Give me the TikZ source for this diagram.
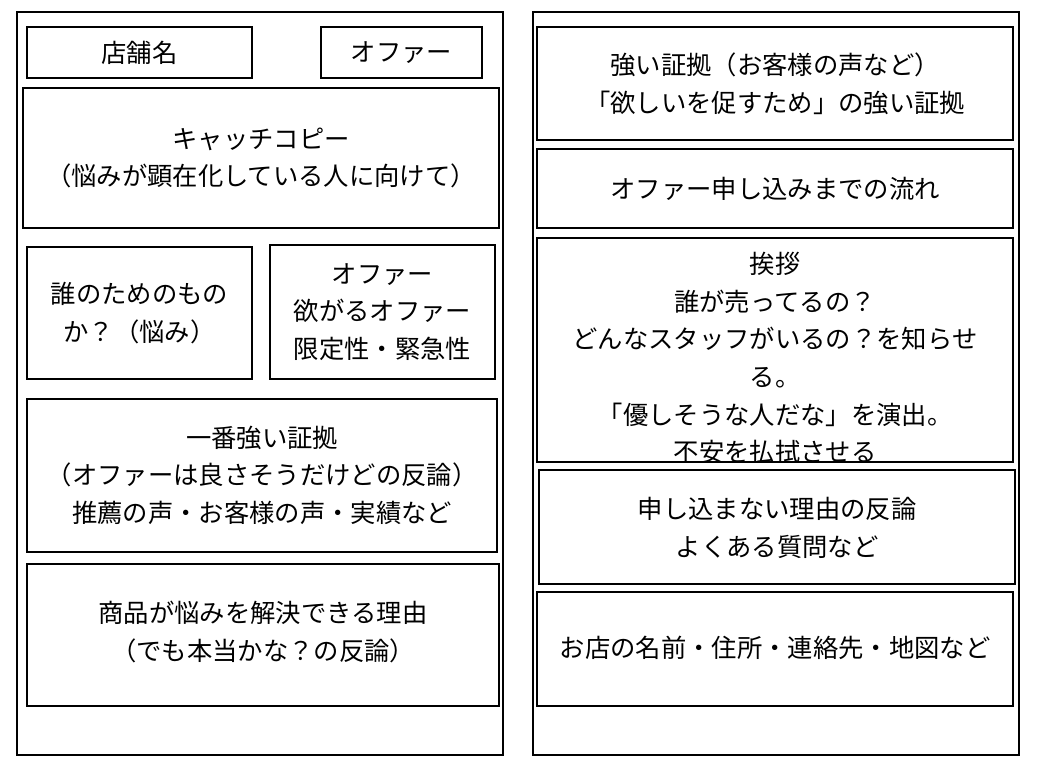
\documentclass[tikz,border=0pt]{standalone}
\usepackage{fontspec}
\setmainfont{Noto Sans CJK JP}
\begin{document}
\begin{tikzpicture}[x=0.75pt,y=-0.75pt,
  box/.style={draw=black,line width=0.8pt},
  txt/.style={font=\fontsize{19}{28.2}\selectfont,align=center,inner sep=0pt}]
\useasboundingbox (0,0) rectangle (1044,782);
\draw[box] (17,12) rectangle (503,755);
\draw[box] (533,12) rectangle (1019,755);
% left
\draw[box] (27,27) rectangle (252,78);
\node[txt] (a) at (139.5,53) {店舗名};
\draw[box] (321,27) rectangle (482,78);
\node[txt] (b) at (401.5,53) {オファー};
\draw[box] (23,88) rectangle (499,228);
\node[txt] (c) at (261,158) {キャッチコピー\\（悩みが顕在化している人に向けて）};
\draw[box] (27,247) rectangle (252,379);
\node[txt] (d) at (139.5,313) {誰のためのもの\\か？（悩み）};
\draw[box] (270,245) rectangle (495,379);
\node[txt] (e) at (382.5,312) {オファー\\欲がるオファー\\限定性・緊急性};
\draw[box] (27,399) rectangle (497,552);
\node[txt] (f) at (262,475) {一番強い証拠\\（オファーは良さそうだけどの反論）\\推薦の声・お客様の声・実績など};
\draw[box] (27,564) rectangle (499,706);
\node[txt] (g) at (263,632) {商品が悩みを解決できる理由\\（でも本当かな？の反論）};
% right
\draw[box] (537,27) rectangle (1013,140);
\node[txt] (h) at (775,84) {強い証拠（お客様の声など）\\「欲しいを促すため」の強い証拠};
\draw[box] (537,149) rectangle (1013,228);
\node[txt] (i) at (775,189) {オファー申し込みまでの流れ};
\draw[box] (537,238) rectangle (1013,462);
\begin{scope}
\clip (537,238) rectangle (1013,462);
\node[txt,anchor=north] (j) at (775,252) {挨拶\\誰が売ってるの？\\どんなスタッフがいるの？を知らせ\\る。\\「優しそうな人だな」を演出。\\不安を払拭させる};
\end{scope}
\draw[box] (539,470) rectangle (1015,584);
\node[txt] (k) at (777,528) {申し込まない理由の反論\\よくある質問など};
\draw[box] (537,592) rectangle (1013,706);
\node[txt] (l) at (775,648) {お店の名前・住所・連絡先・地図など};
\end{tikzpicture}
\end{document}
